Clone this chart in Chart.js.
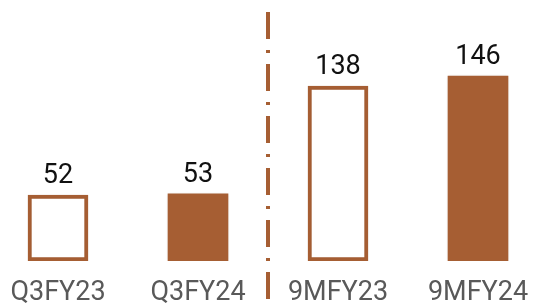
<!DOCTYPE html>
<html>
<head>
<meta charset="utf-8">
<script src="https://cdn.jsdelivr.net/npm/chart.js@4/dist/chart.umd.min.js"></script>
<style>
html,body{margin:0;padding:0;background:#fff;}
#wrap{width:533px;height:306px;}
</style>
</head>
<body>
<div id="wrap"><canvas id="chart"></canvas></div>
<script>
const categories = ["Q3FY23","Q3FY24","9MFY23","9MFY24"];
const values = [52,53,138,146];
const filled = [false,true,false,true];

const brown = "#A65E33";

// value labels above each bar
const valueLabels = {
id:"valueLabels",
afterDatasetsDraw(chart){
const ctx = chart.ctx;
const meta = chart.getDatasetMeta(0);
ctx.save();
ctx.font = "27px Roboto";
ctx.fillStyle = "#111";
ctx.textAlign = "center";
ctx.textBaseline = "alphabetic";
meta.data.forEach((bar,i)=>{
ctx.fillText(String(values[i]), bar.x, bar.y - 12);
});
ctx.restore();
}
};

// dash-dot divider between quarter and nine-month groups
const divider = {
id:"divider",
afterDatasetsDraw(chart){
const ctx = chart.ctx;
const x = Math.round(chart.scales.x.getPixelForValue(1.5));
ctx.save();
ctx.strokeStyle = brown;
ctx.lineWidth = 4;
ctx.setLineDash([27,11,3,11]);
ctx.beginPath();
ctx.moveTo(x,12);
ctx.lineTo(x,chart.height);
ctx.stroke();
ctx.restore();
}
};

// soft shadow behind bars
const barShadow = {
id:"barShadow",
beforeDatasetsDraw(chart){
chart.ctx.save();
chart.ctx.shadowColor = "rgba(0,0,0,0.15)";
chart.ctx.shadowBlur = 3;
},
afterDatasetsDraw(chart){
chart.ctx.restore();
}
};

new Chart(document.getElementById("chart"),{
type:"bar",
data:{
datasets:[{
data: values.map((v,i)=>({x:i,y:v})),
backgroundColor: filled.map(f=>f?brown:"#fff"),
borderColor: brown,
borderWidth: filled.map(f=>f?0:4),
borderSkipped: false,
barThickness: 60
}]
},
options:{
responsive:true,
maintainAspectRatio:false,
animation:false,
layout:{padding:0},
plugins:{legend:{display:false},tooltip:{enabled:false}},
scales:{
x:{
type:"linear",
offset:false,
min:-58/140,
max:(533-58)/140,
grid:{display:false,drawTicks:false},
border:{display:false},
afterBuildTicks:(s)=>{s.ticks=s.ticks.filter(t=>t.value>=0&&t.value<categories.length);},
afterFit:(s)=>{s.height=45;s.paddingLeft=0;s.paddingRight=0;},
ticks:{
stepSize:1,
includeBounds:false,
autoSkip:false,
maxRotation:0,
padding:16,
color:"#595959",
font:{family:"Roboto",size:27},
callback:(v)=>Number.isInteger(v)&&categories[v]?categories[v]:""
}
},
y:{
display:false,
min:0,
max:206
}
}
},
plugins:[barShadow,valueLabels,divider]
});
</script>
</body>
</html>
